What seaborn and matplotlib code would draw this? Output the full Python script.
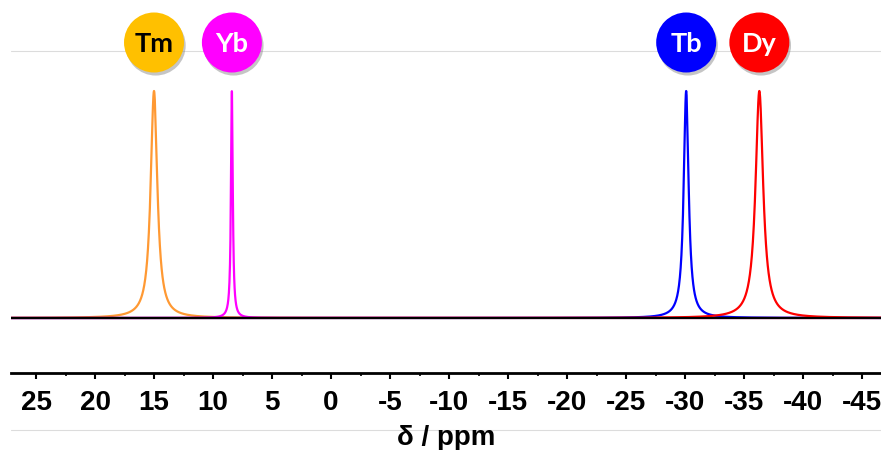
import numpy as np
import pandas as pd
import matplotlib
matplotlib.use("Agg")
import matplotlib.pyplot as plt
import matplotlib.patheffects as pe
from matplotlib.ticker import FixedLocator, FixedFormatter, MultipleLocator
import seaborn as sns

# Paramagnetic shifts of the four lanthanide complexes
elements = ["Tm", "Yb", "Tb", "Dy"]
shifts_ppm = [15.0, 8.4, -30.1, -36.3]
linewidths_ppm = [0.68, 0.18, 0.50, 0.78]   # full width at half height
peak_heights = [1.0, 1.0, 1.0, 1.0]

line_colors = ["#FF9933", "#FF00FF", "#0000FF", "#FF0000"]
badge_colors = ["#FFC000", "#FF00FF", "#0000FF", "#FF0000"]
badge_text_colors = ["black", "white", "white", "white"]

tick_values = [25, 20, 15, 10, 5, 0, -5, -10, -15, -20, -25, -30, -35, -40, -45]
tick_labels = ["25", "20", "15", "10", "5", "0", "-5", "-10", "-15", "-20",
               "-25", "-30", "-35", "-40", "-45"]

x_left, x_right = 27.12, -46.61

# Lorentzian line shapes built from the peak parameters above
ppm_axis = np.linspace(x_left + 0.5, x_right - 0.5, 8000)
frames = []
for el, d0, w, h in zip(elements, shifts_ppm, linewidths_ppm, peak_heights):
    g = w / 2.0
    frames.append(pd.DataFrame({
        "ppm": ppm_axis,
        "intensity": h * g**2 / ((ppm_axis - d0) ** 2 + g**2),
        "element": el,
    }))
spectra = pd.concat(frames, ignore_index=True)

sns.set_style("white")
plt.rcParams["font.family"] = ["Liberation Sans", "DejaVu Sans"]
plt.rcParams["axes.unicode_minus"] = False
plt.rcParams["text.color"] = "black"
plt.rcParams["axes.labelcolor"] = "black"
plt.rcParams["xtick.color"] = "black"

fig = plt.figure(figsize=(8.81, 4.5), dpi=100)
ax = fig.add_axes([11 / 881, 77 / 450, 870 / 881, 373 / 450])

sns.lineplot(data=spectra, x="ppm", y="intensity", hue="element",
             hue_order=elements, palette=line_colors, estimator=None,
             linewidth=1.6, legend=False, ax=ax, zorder=3)

# baseline of the spectrum
ax.axhline(0, color="black", lw=1.6, zorder=4)

ax.set_xlim(x_left, x_right)
ax.set_ylim(-0.2423, 1.4009)

# faint guide rules
for yv in (1.176, -0.4934):
    ax.axhline(yv, color="#dcdcdc", lw=0.8, zorder=0.3, clip_on=False)

# element badges above each resonance
badge_y = 1.2137
ax.scatter(shifts_ppm, [badge_y] * len(shifts_ppm), s=1866, c=badge_colors,
           edgecolors="none", zorder=5, clip_on=False,
           path_effects=[pe.SimplePatchShadow(offset=(1.2, -2.2),
                                              shadow_rgbFace="#7f7f7f", alpha=0.45),
                         pe.Normal()])
for el, d0, tc in zip(elements, shifts_ppm, badge_text_colors):
    ax.text(d0, badge_y, el, ha="center", va="center_baseline", color=tc,
            fontsize=19.5, fontweight="bold", family=["Lato", "DejaVu Sans"],
            zorder=6)

# axis styling
for side in ("top", "left", "right"):
    ax.spines[side].set_visible(False)
ax.spines["bottom"].set_linewidth(2.0)
ax.spines["bottom"].set_color("black")
ax.set_yticks([])
ax.set_ylabel("")
ax.xaxis.set_major_locator(FixedLocator(tick_values))
ax.xaxis.set_major_formatter(FixedFormatter(tick_labels))
ax.xaxis.set_minor_locator(MultipleLocator(2.5))
ax.tick_params(axis="x", which="major", direction="out", length=4, width=1.5,
               pad=8.5, labelsize=20, bottom=True, color="black",
               labelcolor="black")
ax.tick_params(axis="x", which="minor", direction="out", length=2.5, width=1.2,
               bottom=True, color="black")
for lbl in ax.get_xticklabels():
    lbl.set_fontweight("bold")
ax.set_xlabel("δ / ppm", fontsize=20, fontweight="bold", labelpad=6.5,
              color="black")

fig.savefig("out.png", dpi=100, facecolor="white")
